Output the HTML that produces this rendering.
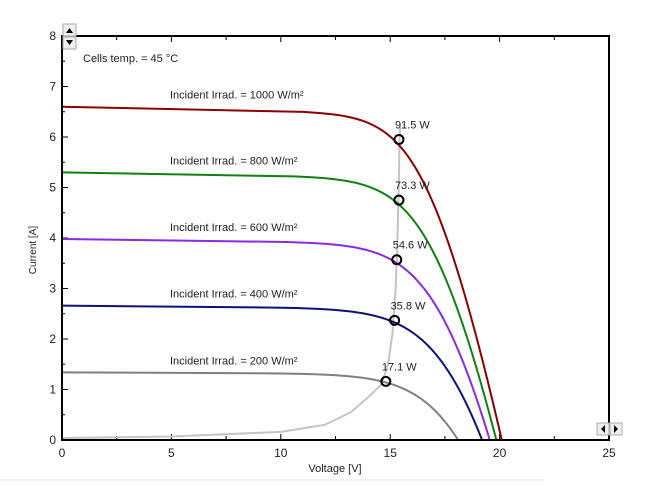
<!DOCTYPE html><html><head><style>body{margin:0;background:#fff}svg{display:block;font-family:"Liberation Sans",sans-serif}</style></head><body>
<svg id="s" width="648" height="486" xmlns="http://www.w3.org/2000/svg">
<rect width="648" height="486" fill="#fff"/>
<line x1="0" y1="480" x2="545" y2="480" stroke="#e4e4e4" stroke-width="1"/>
<g id="g"></g>
<rect x="62" y="36" width="547" height="404" fill="none" stroke="#000" stroke-width="2"/>
<text x="83" y="62" font-size="11" fill="#222">Cells temp. = 45 °C</text>
<text x="36" y="250" font-size="10" fill="#222" text-anchor="middle" transform="rotate(-90 36 250)">Current [A]</text>
<text x="335" y="472" font-size="11" fill="#222" text-anchor="middle">Voltage [V]</text>
<rect x="63" y="24" width="13" height="12" fill="#eee" stroke="#aaa"/><path d="M66 33l3.5-5 3.5 5z" fill="#000"/>
<rect x="63" y="37" width="13" height="12" fill="#eee" stroke="#aaa"/><path d="M66 40l3.5 5 3.5-5z" fill="#000"/>
<rect x="597" y="423" width="12" height="12" fill="#eee" stroke="#aaa"/><path d="M605 425l-4 4 4 4z" fill="#000"/>
<rect x="610" y="423" width="12" height="12" fill="#eee" stroke="#aaa"/><path d="M614 425l4 4-4 4z" fill="#000"/>
</svg>
<script>
const X=v=>62+v*21.88, Y=i=>440-i*50.5, g=document.getElementById('g');let h='';
for(let i=0;i<=8;i++){h+=`<line x1="62" x2="68" y1="${Y(i)}" y2="${Y(i)}" stroke="#000"/><text x="56" y="${Y(i)+4}" font-size="12" text-anchor="end" fill="#222">${i}</text>`;}
for(let i=0;i<8;i++)h+=`<line x1="62" x2="65" y1="${Y(i+0.5)}" y2="${Y(i+0.5)}" stroke="#000"/>`;
for(let v=0;v<=25;v+=5)h+=`<text x="${X(v)}" y="${457}" font-size="12" text-anchor="middle" fill="#222">${v}</text>`;
for(let v=0;v<=25;v+=2.5){h+=`<line x1="${X(v)}" x2="${X(v)}" y1="440" y2="${v%5?436:434}" stroke="#000"/><line x1="${X(v)}" x2="${X(v)}" y1="36" y2="${v%5?40:42}" stroke="#000"/>`;}
const lp=[[0,0.04],[5,0.07],[10,0.16],[12,0.3],[13.2,0.55],[14,0.85],[14.6,1.1],[14.9,1.5],[15.1,2.1],[15.25,3.0],[15.33,4.0],[15.39,5.0],[15.43,6.0],[15.46,6.2]];
h+=`<polyline fill="none" stroke="#c4c4c4" stroke-width="2" points="${lp.map(p=>X(p[0])+','+Y(p[1])).join(' ')}"/>`;
const Rs=0.35;
const C=[[6.6,20.1,1.13,'#8b0000',15.4,5.95,'91.5 W',1000],[5.3,19.85,1.23,'#108010',15.4,4.75,'73.3 W',800],[3.98,19.55,1.32,'#8a2be2',15.3,3.57,'54.6 W',600],[2.66,19.2,1.43,'#10107a',15.2,2.37,'35.8 W',400],[1.34,18.1,1.44,'#808080',14.8,1.16,'17.1 W',200]];
C.forEach(([isc,voc,a,col,vm,im,lab,ir])=>{const k=isc*0.0012;const c=isc/(Math.exp(voc/a)-1);let pts=[];
for(let n=0;n<=400;n++){const I=isc*(1-n/400);const V=a*Math.log((isc-I)/c+1)-I*Rs;if(V<0)continue;pts.push([V,Math.max(0,I-k*V*(I/isc))]);}
pts.unshift([0,isc]);
h+=`<polyline fill="none" stroke="${col}" stroke-width="2" points="${pts.map(p=>X(p[0])+','+Y(p[1])).join(' ')}"/>`;
h+=`<circle cx="${X(vm)}" cy="${Y(im)}" r="4.5" fill="none" stroke="#000" stroke-width="2"/><text x="${X(vm)-4}" y="${Y(im)-11}" font-size="11" fill="#222">${lab}</text><text x="170" y="${Y(isc)-8}" font-size="11" fill="#222">Incident Irrad. = ${ir} W/m²</text>`;});
g.innerHTML=h;
</script></body></html>
